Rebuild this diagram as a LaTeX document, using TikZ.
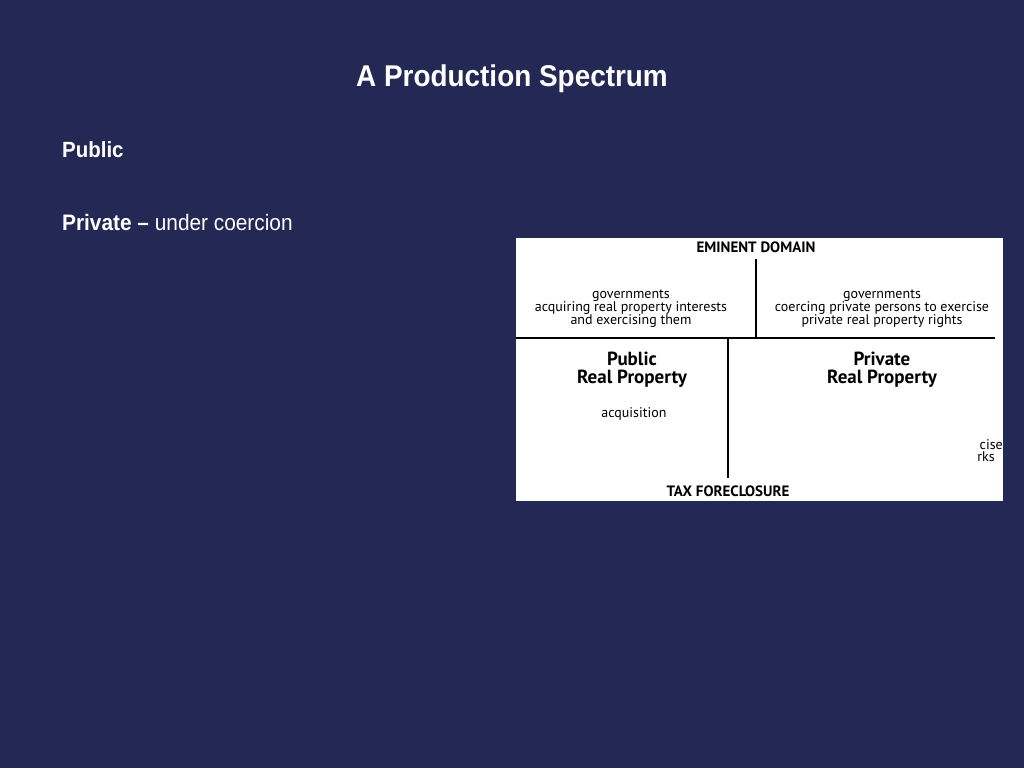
\documentclass[tikz,border=0pt]{standalone}
\usepackage{fontspec}
\setmainfont{Liberation Sans}[FakeStretch=0.93]
\newfontfamily\boxfont{PT Sans}
\definecolor{slidebg}{RGB}{36,40,84}
\begin{document}
\begin{tikzpicture}[x=1pt,y=-1pt,
  slidetext/.style={text=white,inner sep=0pt,anchor=base west},
  boxtext/.style={font=\boxfont\fontsize{14}{13.2}\selectfont,align=center,inner sep=0pt,text=black},
  boxhead/.style={font=\boxfont\bfseries\fontsize{15}{15}\selectfont,inner sep=0pt,text=black},
  boxbig/.style={font=\boxfont\bfseries\fontsize{19}{18}\selectfont,align=center,inner sep=0pt,text=black},
  divider/.style={draw=black,line width=1.6pt}]
\fill[slidebg] (0,0) rectangle (1024,768);
\useasboundingbox (0,0) rectangle (1024,768);
\node[text=white,inner sep=0pt,anchor=base,font=\bfseries\fontsize{30}{34}\selectfont] (title) at (512,86) {A Production Spectrum};
\node[slidetext,font=\bfseries\fontsize{22}{24}\selectfont] (public) at (62,157) {Public};
\node[slidetext,font=\fontsize{22.4}{24}\selectfont] (private) at (62,230) {\textbf{Private –} under coercion};
% white panel
\fill[white] (516,238) rectangle (1003,501);
\begin{scope}
\clip (516,238) rectangle (1003,501);
\node[boxhead,anchor=base] (ed) at (756,252) {EMINENT DOMAIN};
\node[boxhead,anchor=base] (tf) at (728,496) {TAX FORECLOSURE};
\coordinate (vt) at (756,259);
\coordinate (hl) at (516,338);
\coordinate (hr) at (995,338);
\coordinate (vm) at (756,338);
\coordinate (vl) at (728,338);
\coordinate (vb) at (728,478);
\draw[divider] (vt) -- (vm);
\draw[divider] (hl) -- (hr);
\draw[divider] (vl) -- (vb);
\node[boxtext] (gl) at (631,308.5) {governments\\acquiring real property interests\\and exercising them};
\node[boxtext] (gr) at (882,308.5) {governments\\coercing private persons to exercise\\private real property rights};
\node[boxbig] (pub) at (632,370) {Public\\Real Property};
\node[boxbig] (pri) at (882,370) {Private\\Real Property};
\node[boxtext] (acq) at (634,414) {acquisition};
\node[boxtext,anchor=base east] (cise) at (1003,449) {cise};
\node[boxtext,anchor=base east] (rks) at (995,461) {rks};
\end{scope}
\end{tikzpicture}
\end{document}
